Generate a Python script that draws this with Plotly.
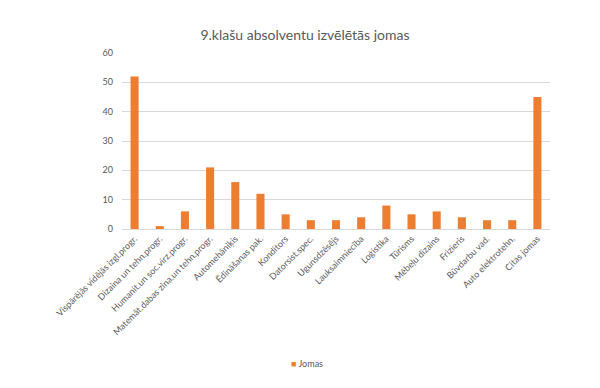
import plotly.graph_objects as go

categories = ["Vispārējās vidējās izgl.progr.", "Dizaina un tehn.progr.", "Humanit.un soc.virz.progr.",
              "Matemāt.dabas zina.un tehn.progr.", "Automehāniķis", "Ēdināšanas pak.", "Konditors",
              "Datorsist.spec.", "Ugunsdzēsējs", "Lauksaimniecība", "Loģistika", "Tūrisms",
              "Mēbeļu dizains", "Frizieris", "Būvdarbu vad.", "Auto elektrotehn.", "Citas jomas"]
values = [52, 1, 6, 21, 16, 12, 5, 3, 3, 4, 8, 5, 6, 4, 3, 3, 45]
y_ticks = [0, 10, 20, 30, 40, 50, 60]
series_name = "Jomas"

FONT = "Lato, 'Open Sans', sans-serif"
GRAY = "#595959"
ORANGE = "#ed7d31"

fig = go.Figure()
fig.add_trace(go.Bar(x=categories, y=values, name=series_name, marker_color=ORANGE,
                     marker_line_width=0, showlegend=False))

# legend-like entry (small square + series name)
fig.add_annotation(
    text=f"<span style='color:{ORANGE}'>■</span> {series_name}",
    xref="paper", yref="paper", x=0.390, y=-0.767, xanchor="left", yanchor="middle",
    showarrow=False, font=dict(size=9, color=GRAY, family=FONT),
)

fig.update_layout(
    width=600, height=388,
    margin=dict(l=114, r=58, t=45, b=167, autoexpand=False),
    paper_bgcolor="white", plot_bgcolor="white",
    bargap=0.68,
    font=dict(family=FONT, color=GRAY, size=9),
    title=dict(text="9.klašu absolventu izvēlētās jomas", x=0.495, xanchor="center",
               y=1 - 27 / 388, yanchor="middle", font=dict(size=14, color=GRAY, family=FONT)),
    showlegend=False,
    xaxis=dict(tickangle=-45, tickfont=dict(size=9, color=GRAY), showgrid=False,
               showline=True, linecolor="#d9d9d9", ticks="", automargin=False),
    yaxis=dict(range=[0, 60], tickvals=y_ticks, showgrid=True, gridcolor="#d9d9d9",
               zeroline=False, tickfont=dict(size=9, color=GRAY), ticks="", showline=False,
               ticklabelstandoff=8, automargin=False),
)

fig.write_html("out.html")
